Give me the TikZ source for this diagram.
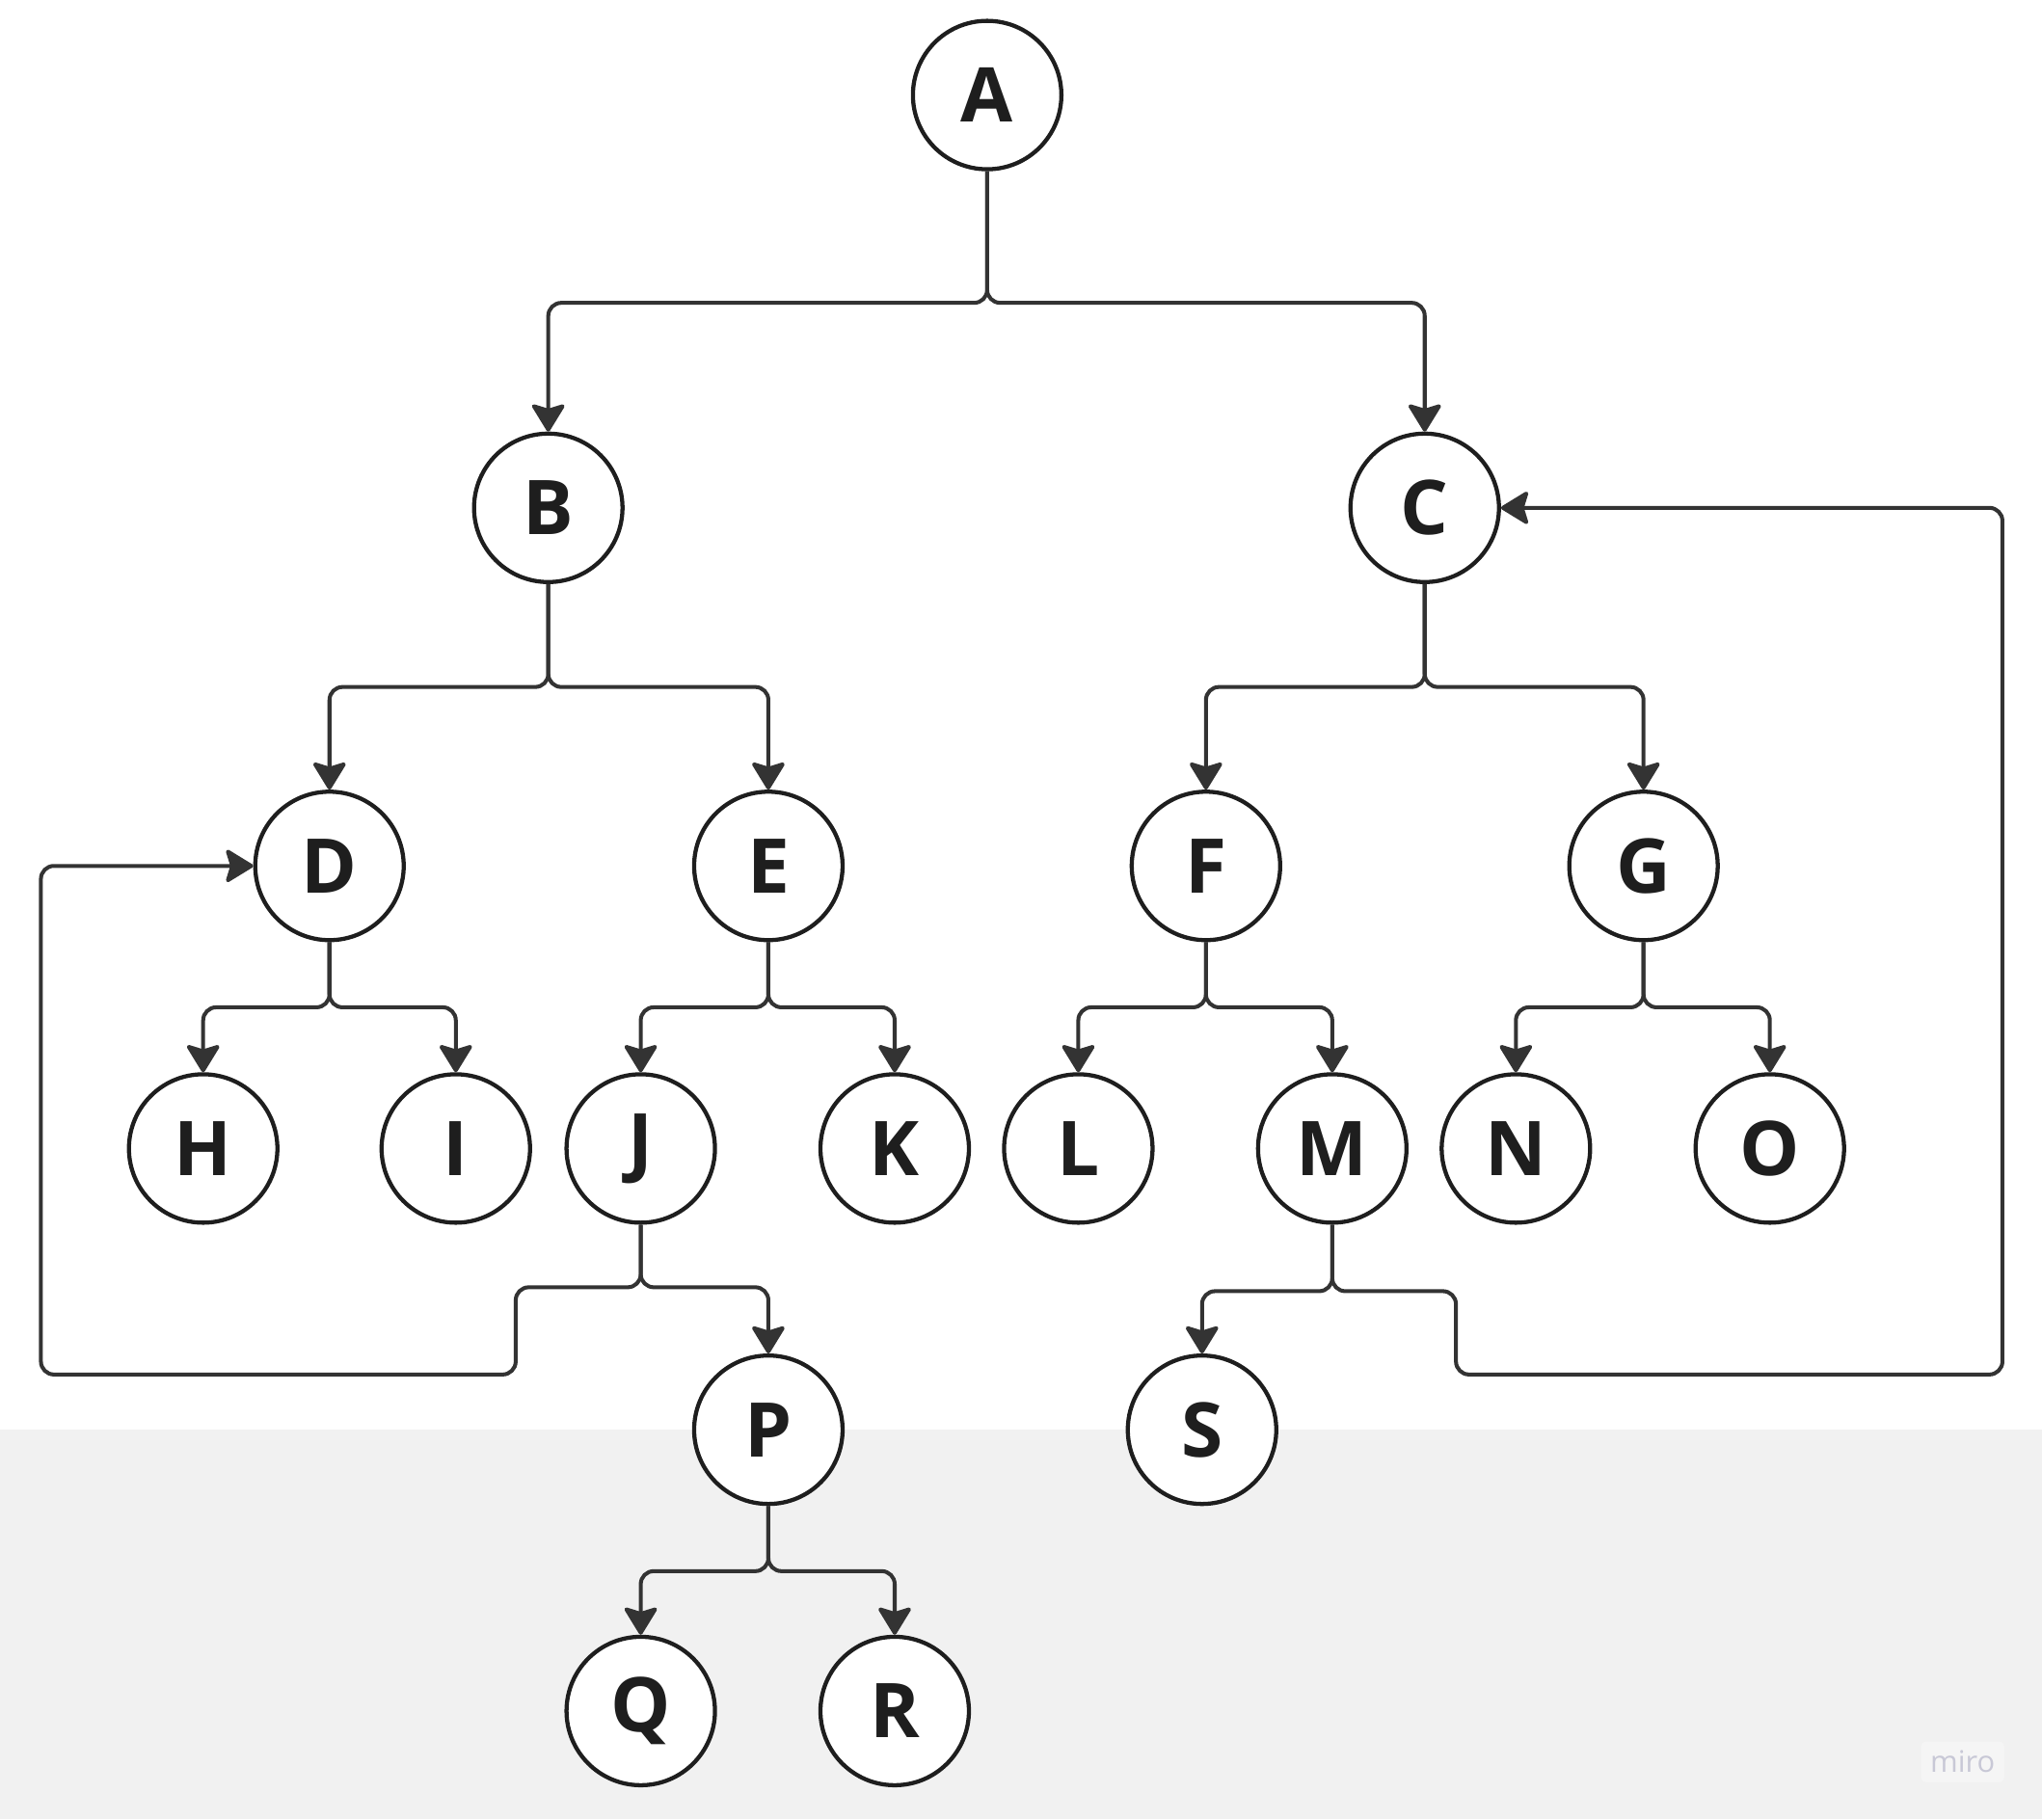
\documentclass[tikz,border=0pt]{standalone}
\usepackage{fontspec}
\setmainfont{Open Sans}
\usepackage{tikz}
\usetikzlibrary{arrows.meta}

\definecolor{linkgray}{HTML}{333333}
\definecolor{ringgray}{HTML}{1E1E1E}
\definecolor{boardgray}{HTML}{F1F1F1}
\definecolor{logogray}{HTML}{C8C8D6}

\tikzset{
    vertex/.style={circle,draw=ringgray,line width=0.9pt,fill=white,
        minimum size=1.14cm,inner sep=0pt,
        font=\fontsize{16.5}{18}\selectfont\bfseries,text=ringgray},
    link/.style={draw=linkgray,line width=0.85pt,rounded corners=0.1cm,
        -{Stealth[length=6.6pt,width=8pt,inset=1.2pt,round]}},
}

\begin{document}
\begin{tikzpicture}

        \useasboundingbox (0,0) rectangle (15.68,-13.97);
        \fill[boardgray] (0,-10.98) rectangle (15.68,-13.97);

        % \foreach \x\letter in {1.56/H,3.50/I,4.92/J,6.87/K}
        %     { \node[vertex] (\letter) at (\x,-8.82) {\letter};}

        \def\rowA{-0.73}
        \def\rowB{-3.90}
        \def\rowD{-6.65}
        \def\rowH{-8.82}
        \def\rowP{-10.98}
        \def\rowQ{-13.14}

        \node[vertex] (A) at (7.58,\rowA) {A};

        \node[vertex] (B) at (4.21,\rowB) {B};
        \node[vertex] (C) at (10.94,\rowB) {C};

        \node[vertex] (D) at (2.53,\rowD) {D};
        \node[vertex] (E) at (5.90,\rowD) {E};
        \node[vertex] (F) at (9.26,\rowD) {F};
        \node[vertex] (G) at (12.62,\rowD) {G};

        \node[vertex] (H) at (1.56,\rowH) {H};
        \node[vertex] (I) at (3.50,\rowH) {I};
        \node[vertex] (J) at (4.92,\rowH) {J};
        \node[vertex] (K) at (6.87,\rowH) {K};
        \node[vertex] (L) at (8.28,\rowH) {L};
        \node[vertex] (M) at (10.23,\rowH) {M};
        \node[vertex] (N) at (11.64,\rowH) {N};
        \node[vertex] (O) at (13.59,\rowH) {O};

        \node[vertex] (P) at (5.90,\rowP) {P};
        \node[vertex] (S) at (9.23,\rowP) {S};

        \node[vertex] (Q) at (4.92,\rowQ) {Q};
        \node[vertex] (R) at (6.87,\rowQ) {R};

        \foreach \from/\to/\drop in {A/B/1.01,A/C/1.01,B/D/0.79,B/E/0.79,
            C/F/0.79,C/G/0.79,D/H/0.50,D/I/0.50,E/J/0.50,E/K/0.50,
            F/L/0.50,F/M/0.50,G/N/0.50,G/O/0.50,J/P/0.48,M/S/0.51,
            P/Q/0.50,P/R/0.50}
            { \draw[link] (\from.south) -- ++(0,-\drop) -| (\to.north);}

        % back edges
        \draw[link] (J.south) -- ++(0,-0.48) -- ++(-0.96,0) -- ++(0,-0.67)
            -| ([xshift=-1.63cm]D.west) -- (D.west);
        \draw[link] (M.south) -- ++(0,-0.51) -- ++(0.95,0) -- ++(0,-0.64)
            -| ([xshift=3.85cm]C.east) -- (C.east);

        \node[fill=white,fill opacity=0.35,text opacity=1,text=logogray,
            rounded corners=1pt,inner sep=2pt,
            font=\fontsize{6.5}{8}\selectfont] (logo) at (15.07,-13.53) {miro};
    \end{tikzpicture}
\end{document}
